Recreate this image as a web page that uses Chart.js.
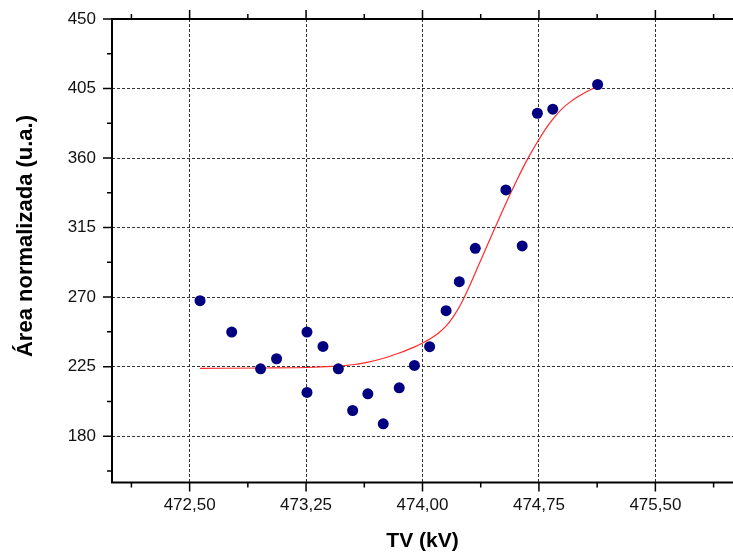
<!DOCTYPE html>
<html>
<head>
<meta charset="utf-8">
<script src="https://cdn.jsdelivr.net/npm/chart.js@4.4.1/dist/chart.umd.min.js"></script>
<style>
  html, body { margin: 0; padding: 0; background: #fff; overflow: hidden; }
  #grafico { display: block; }
</style>
</head>
<body>
<canvas id="grafico" width="733" height="554"></canvas>
<script>
// medidas: tensão TV (kV) x área normalizada (u.a.)
const tensao = [472.567, 472.771, 472.957, 473.060, 473.256, 473.256, 473.359, 473.458, 473.550, 473.648, 473.747,
                473.850, 473.948, 474.046, 474.152, 474.237, 474.340, 474.537, 474.642, 474.740, 474.839, 475.128];
const area = [267.7, 247.4, 223.6, 230.1, 247.4, 208.3, 238.1, 223.6, 196.6, 207.4, 188.0,
              211.3, 225.8, 237.9, 261.2, 280.0, 301.6, 339.4, 303.1, 389.0, 391.6, 407.6];

// curva de ajuste (sigmoide)
const ajusteX = [472.567, 473.0, 473.3, 473.45, 473.55, 473.65, 473.75, 473.85, 473.95, 474.0, 474.05,
                 474.1, 474.15, 474.2, 474.25, 474.3, 474.35, 474.4, 474.45, 474.5, 474.55, 474.6,
                 474.65, 474.7, 474.75, 474.8, 474.85, 474.9, 474.95, 475.0, 475.05, 475.128];
const ajusteY = [223.9, 224.1, 224.6, 225.3, 226.2, 227.9, 230.4, 233.8, 237.8, 240.3, 243.1,
                 246.5, 251.0, 257.5, 266.0, 276.5, 288.0, 299.5, 311.0, 322.3, 333.5, 344.0,
                 354.3, 363.5, 372.0, 379.8, 386.5, 392.0, 396.2, 399.6, 402.6, 406.5];

// marcas dos eixos
const xMaior = [472.5, 473.25, 474.0, 474.75, 475.5];
const xMenor = [472.125, 472.875, 473.625, 474.375, 475.125, 475.875];
const yMaior = [180, 225, 270, 315, 360, 405, 450];
const yMenor = [157.5, 202.5, 247.5, 292.5, 337.5, 382.5, 427.5];

const fonte = '"Liberation Sans", Arial, sans-serif';

function marcas(maior, menor) {
  return maior.concat(menor).sort((a, b) => a - b).map(v => ({ value: v }));
}

// eixos sólidos com tracinhos para fora (esquerda, baixo e topo) + título do eixo y
const eixos = {
  id: 'eixos',
  afterDraw(chart) {
    const { ctx, chartArea: a, scales: { x, y } } = chart;
    ctx.save();
    ctx.strokeStyle = '#000';
    ctx.lineWidth = 2;
    ctx.beginPath();
    ctx.moveTo(a.right, a.top);
    ctx.lineTo(a.left, a.top);
    ctx.lineTo(a.left, a.bottom);
    ctx.lineTo(a.right, a.bottom);
    ctx.stroke();

    ctx.lineWidth = 1.5;
    ctx.beginPath();
    x.ticks.forEach(t => {
      const px = x.getPixelForValue(t.value);
      const len = xMaior.includes(t.value) ? 9 : 5;
      ctx.moveTo(px, a.bottom);
      ctx.lineTo(px, a.bottom + len);
      ctx.moveTo(px, a.top);
      ctx.lineTo(px, a.top - len);
    });
    y.ticks.forEach(t => {
      const py = y.getPixelForValue(t.value);
      const len = yMaior.includes(t.value) ? 9 : 5;
      ctx.moveTo(a.left - len, py);
      ctx.lineTo(a.left, py);
    });
    ctx.stroke();

    ctx.translate(26, 236);
    ctx.rotate(-Math.PI / 2);
    ctx.font = 'bold 22px ' + fonte;
    ctx.fillStyle = '#000';
    ctx.textAlign = 'center';
    ctx.textBaseline = 'middle';
    ctx.fillText('Área normalizada (u.a.)', 0, 0);
    ctx.restore();
  }
};

const corGrade = (lista) => (c) => (c.tick && lista.includes(c.tick.value)) ? '#333' : 'rgba(0,0,0,0)';

const ctx = document.getElementById('grafico').getContext('2d');
const grafico = new Chart(ctx, {
  type: 'scatter',
  data: {
    datasets: [{
      label: 'Medidas',
      data: tensao.map((v, i) => ({ x: v, y: area[i] })),
      backgroundColor: '#000080',
      borderWidth: 0,
      pointRadius: 5.5
    }, {
      label: 'Ajuste',
      data: ajusteX.map((v, i) => ({ x: v, y: ajusteY[i] })),
      showLine: true,
      cubicInterpolationMode: 'monotone',
      borderColor: '#ff2a2a',
      borderWidth: 1.2,
      pointRadius: 0
    }]
  },
  plugins: [eixos],
  options: {
    responsive: false,
    animation: false,
    events: [],
    layout: { autoPadding: false, padding: { top: 19, left: 0, right: 0, bottom: 0 } },
    plugins: { legend: { display: false }, tooltip: { enabled: false } },
    scales: {
      x: {
        type: 'linear',
        min: 472,
        max: 476,
        afterBuildTicks: s => { s.ticks = marcas(xMaior, xMenor); },
        afterFit: s => { s.height = 71.5; s.paddingLeft = 0; s.paddingRight = 0; },
        ticks: {
          padding: 13,
          color: '#111',
          font: { family: fonte, size: 17 },
          callback: v => xMaior.includes(v) ? v.toFixed(2).replace('.', ',') : ''
        },
        grid: { drawTicks: false, lineWidth: 1, color: corGrade(xMaior) },
        border: { display: false, dash: [3, 2] },
        title: {
          display: true,
          text: 'TV (kV)',
          color: '#000',
          font: { family: fonte, size: 21, weight: 'bold' },
          padding: { top: 0, bottom: 0 }
        }
      },
      y: {
        min: 150,
        max: 450,
        afterBuildTicks: s => { s.ticks = marcas(yMaior, yMenor); },
        afterFit: s => { s.width = 112; s.paddingTop = 0; s.paddingBottom = 0; },
        ticks: {
          padding: 16,
          color: '#111',
          font: { family: fonte, size: 17 },
          callback: v => yMaior.includes(v) ? String(v) : ''
        },
        grid: { drawTicks: false, lineWidth: 1, color: corGrade(yMaior) },
        border: { display: false, dash: [3, 2] }
      }
    }
  }
});
</script>
</body>
</html>
